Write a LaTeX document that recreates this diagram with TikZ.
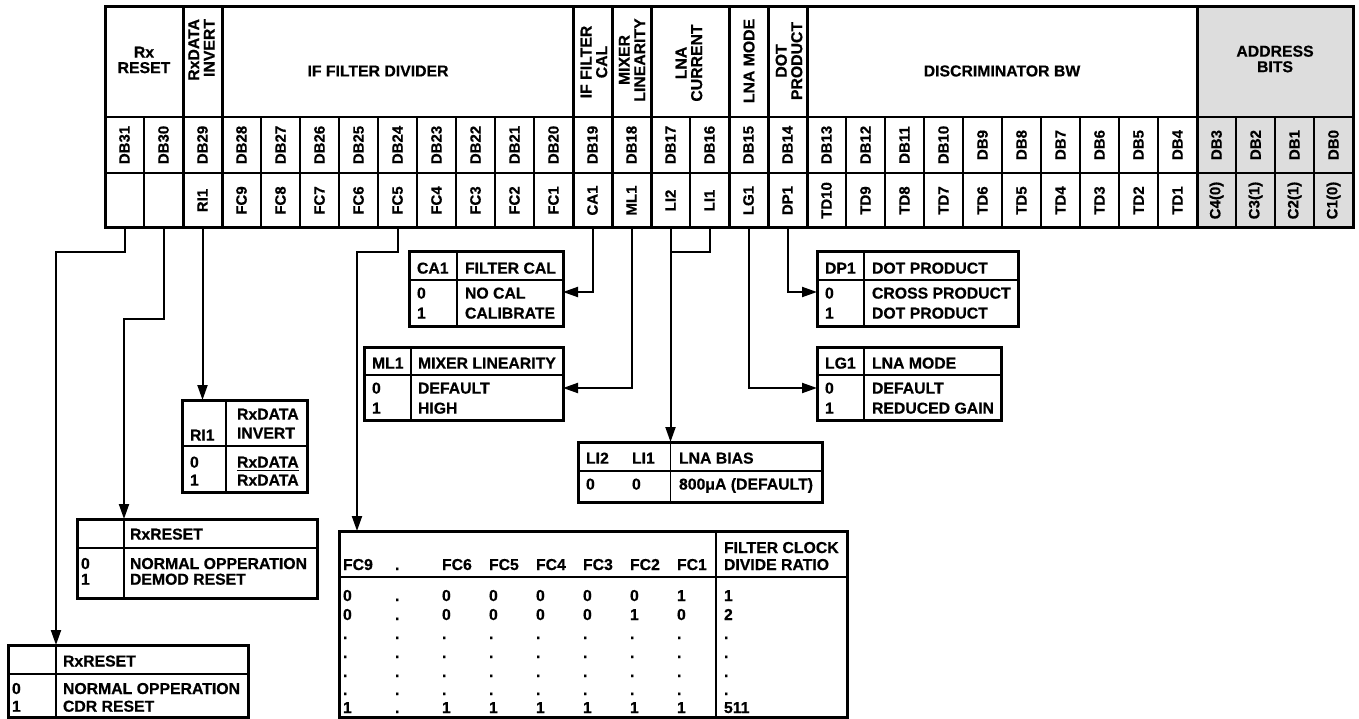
\documentclass[tikz,border=0pt]{standalone}
\usepackage{fontspec}
\usepackage{graphicx}
\setmainfont{Liberation Sans}[BoldFeatures={FakeBold=0.6}]
\usetikzlibrary{arrows.meta,calc}
\definecolor{addrgray}{RGB}{221,221,221}
\tikzset{
 every node/.style={inner sep=0pt, outer sep=0pt},
 txt/.style={font=\bfseries\fontsize{15.8}{19}\selectfont, anchor=base west},
 hdr/.style={font=\bfseries\fontsize{15.8}{15.5}\selectfont, align=center},
 dbl/.style={font=\bfseries\fontsize{15}{18}\selectfont},
 bcell/.style={minimum width=39pt, minimum height=55pt, font=\bfseries\fontsize{15}{18}\selectfont},
 regthick/.style={line width=3pt},
 regthin/.style={line width=1.5pt},
 tblbox/.style={draw, line width=3pt},
 tblin/.style={line width=1.8pt},
 conn/.style={line width=2pt, -{Triangle[length=15pt,width=10pt]}},
 connl/.style={line width=2pt},
}
% table frame: name, x, y, width, height, divider offset, header height
\newcommand\regtable[7]{%
 \node[tblbox, minimum width=#4pt, minimum height=#5pt, anchor=north west] (#1) at (#2,#3) {};
 \draw[tblin] ([xshift=#6pt]#1.north west) -- ([xshift=#6pt]#1.south west);
 \draw[tblin] ([yshift=-#7pt]#1.north west) -- ([yshift=-#7pt]#1.north east);
}
\newcommand\tcell[4]{\node[txt] (#1) at (#2,#3) {#4};}
\begin{document}
\begin{tikzpicture}[x=1pt,y=-1pt]
\useasboundingbox (0,0) rectangle (1359,719);
% ---------------- register ----------------
\fill[addrgray] (1197,7) rectangle (1353,228);
\foreach \k in {1,...,31} \draw[regthin] ({105+39*\k},117) -- ({105+39*\k},228);
\draw[regthin] (105,117) -- (1353,117);
\draw[regthin] (105,173) -- (1353,173);
\foreach \k in {2,3,12,13,14,16,17,18,28} \draw[regthick] ({105+39*\k},7) -- ({105+39*\k},228);
\draw[regthick] (105,7) rectangle (1353,228);
% header texts
\node[hdr] (hrx) at (144,60) {Rx\\RESET};
\node[hdr, rotate=90, anchor=east, align=right] (hrxd) at (201.5,19) {RxDATA\\INVERT};
\node[hdr] (hifd) at (378,71) {IF FILTER DIVIDER};
\node[hdr, rotate=90] (hcal) at (594,62) {IF FILTER\\CAL};
\node[hdr, rotate=90] (hmix) at (632,60) {MIXER\\LINEARITY};
\node[hdr, rotate=90] (hlnac) at (689,63) {LNA\\CURRENT};
\node[hdr, rotate=90] (hlnam) at (749,61) {LNA MODE};
\node[hdr, rotate=90] (hdot) at (789,61) {DOT\\PRODUCT};
\node[hdr] (hdisc) at (1002,71) {DISCRIMINATOR BW};
\node[hdr] (haddr) at (1275,59) {ADDRESS\\BITS};
% bit numbers
\foreach \n in {0,...,31}{\node[dbl, rotate=90] (d\n) at ({124.5+39*(31-\n)},145) {DB\n};}
% bit names
\foreach \n/\lab in {31/{},30/{},29/RI1,28/FC9,27/FC8,26/FC7,25/FC6,24/FC5,23/FC4,22/FC3,21/FC2,20/FC1,19/CA1,18/ML1,17/LI2,16/LI1,15/LG1,14/DP1,13/TD10,12/TD9,11/TD8,10/TD7,9/TD6,8/TD5,7/TD4,6/TD3,5/TD2,4/TD1,3/{C4(0)},2/{C3(1)},1/{C2(1)},0/{C1(0)}}{%
 \node[bcell] (b\n) at ({124.5+39*(31-\n)},200.5) {\rotatebox{90}{\lab}};}
% ---------------- tables ----------------
\regtable{ca1}{409}{252}{154}{74}{48}{28}
\tcell{ca1h1}{417}{273.6}{CA1}
\tcell{ca1h2}{465}{273.6}{FILTER CAL}
\tcell{ca1a}{417}{298.6}{0}
\tcell{ca1b}{417}{318.6}{1}
\tcell{ca1c}{465}{298.6}{NO CAL}
\tcell{ca1d}{465}{318.6}{CALIBRATE}

\regtable{ml1}{364}{347}{199}{73}{47}{28}
\tcell{ml1h1}{372}{368.6}{ML1}
\tcell{ml1h2}{418}{368.6}{MIXER LINEARITY}
\tcell{ml1a}{372}{393.6}{0}
\tcell{ml1b}{372}{413.6}{1}
\tcell{ml1c}{418}{393.6}{DEFAULT}
\tcell{ml1d}{418}{413.6}{HIGH}

\regtable{dp1}{817}{252}{201}{74}{47}{28}
\tcell{dp1h1}{825}{273.6}{DP1}
\tcell{dp1h2}{872}{273.6}{DOT PRODUCT}
\tcell{dp1a}{825}{298.6}{0}
\tcell{dp1b}{825}{318.6}{1}
\tcell{dp1c}{872}{298.6}{CROSS PRODUCT}
\tcell{dp1d}{872}{318.6}{DOT PRODUCT}

\regtable{lg1}{817}{347}{184}{73}{47}{28}
\tcell{lg1h1}{825}{368.6}{LG1}
\tcell{lg1h2}{872}{368.6}{LNA MODE}
\tcell{lg1a}{825}{393.6}{0}
\tcell{lg1b}{825}{413.6}{1}
\tcell{lg1c}{872}{393.6}{DEFAULT}
\tcell{lg1d}{872}{413.6}{REDUCED GAIN}

\regtable{lna}{578}{442}{244}{60}{92.5}{29}
\tcell{lnah1}{586}{463.6}{LI2}
\tcell{lnah2}{632}{463.6}{LI1}
\tcell{lnah3}{679}{463.6}{LNA BIAS}
\tcell{lnaa}{586}{489.6}{0}
\tcell{lnab}{632}{489.6}{0}
\tcell{lnac}{679}{489.6}{800μA (DEFAULT)}

\regtable{ri1}{182}{400}{125}{92}{44}{46}
\tcell{ri1h1}{190}{440.6}{RI1}
\tcell{ri1h2}{237}{419.6}{RxDATA}
\tcell{ri1h3}{237}{438.6}{INVERT}
\tcell{ri1a}{190}{467.6}{0}
\tcell{ri1b}{190}{485.6}{1}
\tcell{ri1c}{237}{467.6}{RxDATA}
\tcell{ri1d}{237}{485.6}{RxDATA}
\draw[line width=1.4pt] ([yshift=4.5pt]ri1d.north west) -- ([yshift=4.5pt]ri1d.north east);

\regtable{dem}{77}{519}{240}{79}{47}{29}
\tcell{demh}{130}{539.6}{RxRESET}
\tcell{dema}{81}{569}{0}
\tcell{demb}{81}{584.7}{1}
\tcell{demc}{130}{569}{NORMAL OPPERATION}
\tcell{demd}{130}{584.7}{DEMOD RESET}

\regtable{cdr}{8}{645}{240}{72}{48}{29}
\tcell{cdrh}{63}{666.5}{RxRESET}
\tcell{cdra}{12}{694}{0}
\tcell{cdrb}{12}{711.7}{1}
\tcell{cdrc}{63}{694}{NORMAL OPPERATION}
\tcell{cdrd}{63}{711.7}{CDR RESET}

\regtable{fc}{339}{531}{508}{186}{377}{46}
\tcell{fch}{724}{553}{FILTER CLOCK}
\foreach \v [count=\ci] in {FC9,.,FC6,FC5,FC4,FC3,FC2,FC1,DIVIDE RATIO}{%
 \pgfmathsetmacro\xx{{343,395,442,489,536,583,630,677,724}[\ci-1]}
 \node[txt] (fc-0-\ci) at (\xx,570) {\v};}
\foreach \y/\row [count=\ri] in {601/{0,.,0,0,0,0,0,1,1},620/{0,.,0,0,0,0,1,0,2},639/{.,.,.,.,.,.,.,.,.},658/{.,.,.,.,.,.,.,.,.},677/{.,.,.,.,.,.,.,.,.},695/{.,.,.,.,.,.,.,.,.},713/{1,.,1,1,1,1,1,1,511}}{%
 \foreach \v [count=\ci] in \row {%
  \pgfmathsetmacro\xx{{343,395,442,489,536,583,630,677,724}[\ci-1]}
  \node[txt] (fc-\ri-\ci) at (\xx,\y) {\v};}}
% ---------------- connectors ----------------
\coordinate (cdrT) at ([xshift=48pt]cdr.north west);
\draw[conn] (b31.south) -- ++(0,24) -| (cdrT);
\coordinate (demT) at ([xshift=47pt]dem.north west);
\draw[conn] (b30.south) -- ++(0,91) -| (demT);
\draw[conn] (b29.south) -- (b29.south |- ri1.north);
\coordinate (fcT) at ([xshift=18pt]fc.north west);
\draw[conn] (b24.south) -- ++(0,24) -| (fcT);
\coordinate (ca1E) at ([yshift=-40pt]ca1.north east);
\draw[conn] (b19.south) |- (ca1E);
\coordinate (ml1E) at ([yshift=-41pt]ml1.north east);
\draw[conn] (b18.south) |- (ml1E);
\draw[conn] (b17.south) -- (b17.south |- lna.north);
\coordinate (j17) at ([yshift=-24pt]b17.south);
\draw[connl] (b16.south) |- (j17);
\coordinate (lg1W) at ([yshift=-41pt]lg1.north west);
\draw[conn] (b15.south) |- (lg1W);
\coordinate (dp1W) at ([yshift=-40pt]dp1.north west);
\draw[conn] (b14.south) |- (dp1W);
\end{tikzpicture}
\end{document}
